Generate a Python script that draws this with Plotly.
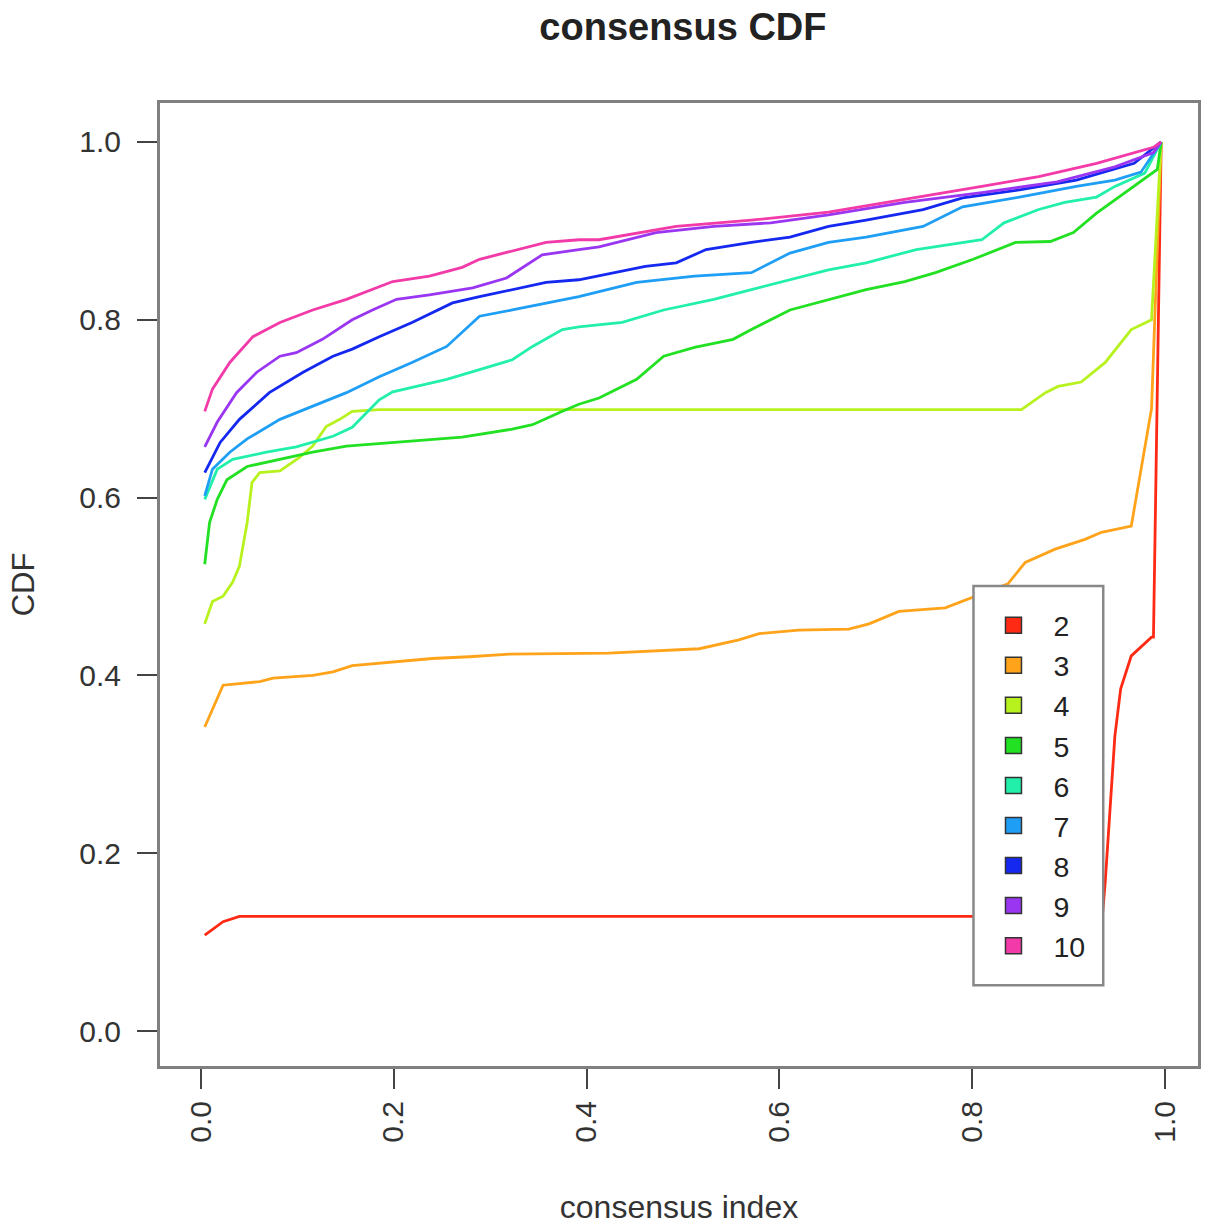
import plotly.graph_objects as go

# ---- data ----
k_labels = ["2", "3", "4", "5", "6", "7", "8", "9", "10"]
colors = ["#FF2A14", "#FFA31A", "#B8F21E", "#22E022", "#22F0AA", "#1E9EF5", "#1428F0", "#9A36F2", "#F23AA8"]

x_k2 = [0.004, 0.023, 0.040, 0.935, 0.938, 0.948, 0.954, 0.965, 0.986, 0.988, 0.996]
y_k2 = [0.108, 0.123, 0.129, 0.129, 0.168, 0.332, 0.385, 0.422, 0.443, 0.443, 1.000]

x_k3 = [0.004, 0.023, 0.061, 0.075, 0.116, 0.137, 0.157, 0.199, 0.240, 0.278, 0.320, 0.423, 0.517,
        0.558, 0.579, 0.620, 0.672, 0.693, 0.724, 0.772, 0.796, 0.837, 0.855, 0.886, 0.917, 0.934,
        0.965, 0.979, 0.986, 0.996]
y_k3 = [0.342, 0.389, 0.393, 0.397, 0.400, 0.404, 0.411, 0.415, 0.419, 0.421, 0.424, 0.425, 0.430,
        0.440, 0.447, 0.451, 0.452, 0.458, 0.472, 0.476, 0.486, 0.503, 0.527, 0.542, 0.553, 0.561,
        0.568, 0.658, 0.700, 1.000]

x_k4 = [0.004, 0.012, 0.023, 0.033, 0.040, 0.048, 0.053, 0.061, 0.082, 0.092, 0.102, 0.116, 0.130,
        0.144, 0.157, 0.185, 0.851, 0.876, 0.889, 0.913, 0.938, 0.965, 0.986, 0.996]
y_k4 = [0.458, 0.483, 0.489, 0.505, 0.523, 0.572, 0.617, 0.628, 0.630, 0.637, 0.645, 0.658, 0.680,
        0.688, 0.697, 0.699, 0.699, 0.718, 0.725, 0.730, 0.752, 0.789, 0.800, 1.000]

x_k5 = [0.004, 0.009, 0.017, 0.027, 0.048, 0.082, 0.116, 0.151, 0.219, 0.271, 0.323, 0.344, 0.375,
        0.392, 0.413, 0.452, 0.480, 0.512, 0.552, 0.571, 0.611, 0.651, 0.690, 0.730, 0.762, 0.801,
        0.845, 0.881, 0.905, 0.929, 0.968, 0.992, 0.996]
y_k5 = [0.525, 0.572, 0.598, 0.620, 0.635, 0.643, 0.651, 0.658, 0.664, 0.668, 0.677, 0.682, 0.697,
        0.705, 0.712, 0.733, 0.759, 0.769, 0.778, 0.789, 0.811, 0.823, 0.834, 0.843, 0.853, 0.868,
        0.887, 0.888, 0.898, 0.920, 0.950, 0.969, 1.000]

x_k6 = [0.004, 0.017, 0.033, 0.068, 0.099, 0.126, 0.137, 0.157, 0.185, 0.199, 0.255, 0.289, 0.323,
        0.344, 0.375, 0.392, 0.437, 0.480, 0.532, 0.571, 0.611, 0.651, 0.690, 0.742, 0.810, 0.833,
        0.869, 0.896, 0.929, 0.948, 0.979, 0.996]
y_k6 = [0.598, 0.632, 0.643, 0.651, 0.657, 0.666, 0.669, 0.679, 0.710, 0.719, 0.733, 0.744, 0.755,
        0.770, 0.789, 0.792, 0.797, 0.811, 0.823, 0.834, 0.845, 0.856, 0.864, 0.879, 0.890, 0.909,
        0.924, 0.932, 0.938, 0.950, 0.965, 1.000]

x_k7 = [0.004, 0.012, 0.030, 0.048, 0.082, 0.116, 0.151, 0.185, 0.219, 0.255, 0.289, 0.323, 0.358,
        0.392, 0.452, 0.512, 0.571, 0.611, 0.651, 0.690, 0.749, 0.790, 0.849, 0.908, 0.948, 0.975,
        0.996]
y_k7 = [0.602, 0.632, 0.651, 0.666, 0.688, 0.703, 0.718, 0.736, 0.752, 0.770, 0.804, 0.811, 0.819,
        0.826, 0.842, 0.849, 0.853, 0.875, 0.887, 0.893, 0.905, 0.927, 0.938, 0.950, 0.957, 0.966,
        1.000]

x_k8 = [0.004, 0.020, 0.040, 0.071, 0.106, 0.137, 0.157, 0.185, 0.219, 0.261, 0.289, 0.323, 0.358,
        0.392, 0.461, 0.493, 0.524, 0.571, 0.611, 0.651, 0.690, 0.749, 0.790, 0.849, 0.908, 0.968,
        0.996]
y_k8 = [0.628, 0.662, 0.688, 0.718, 0.741, 0.759, 0.767, 0.781, 0.797, 0.819, 0.826, 0.834, 0.842,
        0.845, 0.860, 0.864, 0.879, 0.887, 0.893, 0.905, 0.912, 0.924, 0.937, 0.946, 0.957, 0.976,
        1.000]

x_k9 = [0.004, 0.017, 0.037, 0.058, 0.082, 0.099, 0.126, 0.157, 0.178, 0.203, 0.237, 0.282, 0.317,
        0.330, 0.354, 0.392, 0.413, 0.472, 0.532, 0.591, 0.651, 0.730, 0.810, 0.888, 0.948, 0.988,
        0.996]
y_k9 = [0.657, 0.685, 0.718, 0.741, 0.759, 0.763, 0.778, 0.800, 0.811, 0.823, 0.828, 0.836, 0.847,
        0.856, 0.873, 0.879, 0.882, 0.898, 0.905, 0.909, 0.918, 0.932, 0.943, 0.955, 0.972, 0.988,
        1.000]

x_k10 = [0.004, 0.012, 0.030, 0.054, 0.082, 0.116, 0.151, 0.172, 0.199, 0.237, 0.271, 0.289, 0.323,
         0.358, 0.392, 0.413, 0.493, 0.571, 0.651, 0.730, 0.810, 0.869, 0.929, 0.988, 0.996]
y_k10 = [0.697, 0.722, 0.752, 0.781, 0.797, 0.811, 0.823, 0.832, 0.843, 0.849, 0.859, 0.868, 0.877,
         0.887, 0.890, 0.890, 0.905, 0.912, 0.921, 0.935, 0.950, 0.961, 0.976, 0.994, 1.000]

tick_vals = [0.0, 0.2, 0.4, 0.6, 0.8, 1.0]
tick_text = ["0.0", "0.2", "0.4", "0.6", "0.8", "1.0"]

series_x = [x_k2, x_k3, x_k4, x_k5, x_k6, x_k7, x_k8, x_k9, x_k10]
series_y = [y_k2, y_k3, y_k4, y_k5, y_k6, y_k7, y_k8, y_k9, y_k10]

FONT = "Liberation Sans, Arial, Helvetica, sans-serif"

fig = go.Figure()
for lab, col, xs, ys in zip(k_labels, colors, series_x, series_y):
    fig.add_trace(go.Scatter(x=xs, y=ys, mode="lines", name=lab,
                             line=dict(color=col, width=2.8), showlegend=False))
# legend entries as filled squares (like R's fill legend)
for lab, col in zip(k_labels, colors):
    fig.add_trace(go.Scatter(x=[None], y=[None], mode="markers", name=lab,
                             marker=dict(symbol="square", size=20, color=col,
                                         line=dict(color="#333333", width=1.5))))

axis_common = dict(
    showgrid=False, zeroline=False, showline=True, mirror=True,
    linecolor="#808080", linewidth=3, ticks="outside", ticklen=20,
    tickwidth=2, tickcolor="#444444",
    tickfont=dict(family=FONT, size=30, color="#333333"),
    tickvals=tick_vals, ticktext=tick_text,
)

fig.update_layout(
    width=1213, height=1231,
    margin=dict(l=160, r=13, t=103, b=163),
    paper_bgcolor="white", plot_bgcolor="white",
    title=dict(text="<b>consensus CDF</b>", x=0.563, xanchor="center",
               y=0.978, yanchor="middle",
               font=dict(family=FONT, size=38, color="#222222")),
    xaxis=dict(range=[-0.0424, 1.0342], tickangle=-90,
               title=dict(text="consensus index", standoff=54,
                          font=dict(family=FONT, size=32, color="#333333")),
               **axis_common),
    yaxis=dict(range=[-0.0393, 1.0438], ticklabelstandoff=10,
               title=dict(text="CDF", standoff=36,
                          font=dict(family=FONT, size=31, color="#333333")),
               **axis_common),
    legend=dict(x=0.7837, y=0.4985, xanchor="left", yanchor="top",
                bgcolor="rgba(0,0,0,0)", borderwidth=0,
                font=dict(family=FONT, size=28.5, color="#222222"),
                title=dict(text=" ", font=dict(family=FONT, size=11)),
                itemsizing="trace", itemwidth=70, tracegroupgap=0),
    showlegend=True,
    # framed white backing box for the legend (R-style legend box with padding)
    shapes=[dict(type="rect", xref="paper", yref="paper",
                 x0=0.7837, x1=0.9087, y0=0.0839, y1=0.4984,
                 fillcolor="white", line=dict(color="#888888", width=2.5),
                 layer="above")],
)

fig.write_html("out.html", config={"displayModeBar": False})

# remove the browser's default 8px body margin so the figure sits at the page origin
with open("out.html", "r", encoding="utf-8") as f:
    html = f.read()
html = html.replace("<head>", "<head><style>html,body{margin:0;padding:0;}</style>", 1)
with open("out.html", "w", encoding="utf-8") as f:
    f.write(html)
